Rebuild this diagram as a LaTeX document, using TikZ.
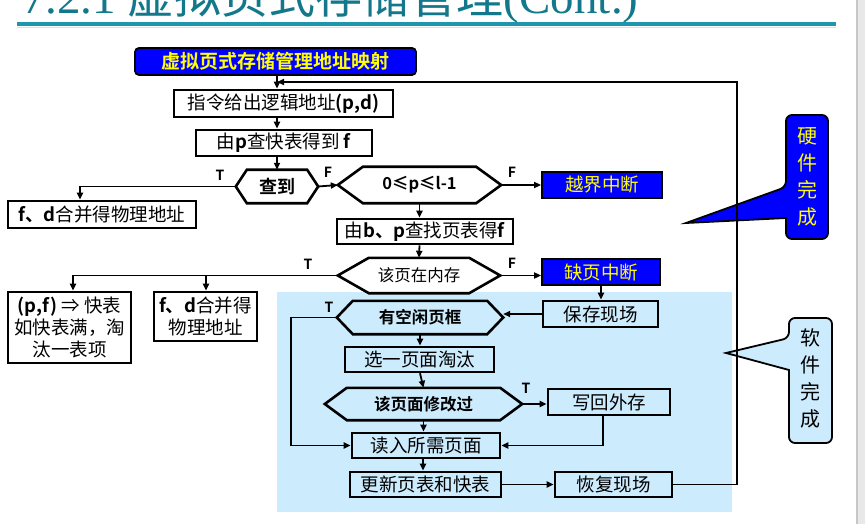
\documentclass[tikz,border=0pt]{standalone}
\usepackage{fontspec}
\setmainfont{Noto Sans CJK SC}[BoldFont={Noto Sans CJK SC Bold}]
\newfontfamily\headserif{Liberation Serif}
\usepackage{xcolor}
\usetikzlibrary{arrows.meta}
\definecolor{headteal}{HTML}{13788C}
\definecolor{ruleteal}{HTML}{1E96AE}
\definecolor{softblue}{HTML}{CCEBFD}
\definecolor{alarmblue}{HTML}{0000FF}
\definecolor{alarmyellow}{HTML}{FFFF00}

\begin{document}
\begin{tikzpicture}[x=1pt, y=-1pt, >={Triangle[length=7pt,width=6pt]},
    font=\fontsize{18.5}{21.7}\selectfont,
    box/.style={draw, line width=2.6pt, inner sep=0pt, minimum height=26pt,
                align=center},
    alarm/.style={box, line width=1.8pt, fill=alarmblue, text=alarmyellow},
    test/.style={inner sep=0pt, font=\fontsize{16.5}{20}\selectfont\bfseries,
                 append after command={\pgfextra{\draw[line width=2.6pt]
                   (\tikzlastnode.west) -- ([xshift=#1]\tikzlastnode.north west)
                   -- ([xshift=-#1]\tikzlastnode.north east) -- (\tikzlastnode.east)
                   -- ([xshift=-#1]\tikzlastnode.south east)
                   -- ([xshift=#1]\tikzlastnode.south west) -- cycle;}}},
    link/.style={->, line width=1.8pt},
    tag/.style={font=\fontsize{14}{16}\selectfont\bfseries, inner sep=0pt}]
  \useasboundingbox (0,0) rectangle (865,524);
  \fill[black!9] (856,0) rectangle (865,524);
  \draw[black!22, line width=1.5pt] (857,0) -- (857,524);
  \node[anchor=base west, inner sep=0pt, text=headteal,
        font=\fontsize{47}{50}\selectfont] (heading) at (22,14)
        {{\headserif 7.2.1 }虚拟页式存储管理{\headserif (Cont.)}};
  \draw[black!12, line width=1.5pt] (17,27.5) -- (836,27.5);
  \draw[ruleteal, line width=3.5pt] (17,24) -- (836,24);
  \fill[softblue] (277,292) rectangle (732,512);

  \draw[fill=alarmblue, line width=1.8pt, rounded corners=6pt]
    (786,218) -- (786,239) -- (828,239) -- (828,115) -- (786,115) -- (786,187)
    [sharp corners] -- (686,223) -- cycle;
  \node[text=alarmyellow, align=center, font=\fontsize{20}{27}\selectfont]
    (hwtag) at (807,177) {硬\\件\\完\\成};
  \draw[fill=softblue, line width=1.8pt, rounded corners=6pt]
    (789,370) -- (789,443) -- (832,443) -- (832,318) -- (789,318) -- (789,338)
    [sharp corners] -- (726,353) -- cycle;
  \node[align=center, font=\fontsize{20}{27}\selectfont]
    (swtag) at (810,378) {软\\件\\完\\成};

  \node[alarm, rounded corners=4pt, minimum width=281pt, minimum height=27pt,
        font=\fontsize{19}{22}\selectfont\bfseries] (title) at (275.5,61.5)
        {虚拟页式存储管理地址映射};
  \node[box, minimum width=219pt, minimum height=27pt] (addr) at (283.5,103.5)
        {指令给出逻辑地址\textbf{(p,d)}};
  \node[box, minimum width=176pt] (tlb) at (284,143)
        {由\textbf{p}查快表得到 \textbf{f}};
  \node[test=11pt, minimum width=82pt, minimum height=33pt,
        font=\fontsize{18}{20}\selectfont\bfseries] (hit) at (277,186.5) {查到};
  \node[test=25pt, minimum width=163pt, minimum height=36pt]
        (bound) at (419.5,185) {0≤p≤l-1};
  \node[alarm, minimum width=120pt] (err1) at (602,185) {越界中断};
  \node[box, minimum width=188pt, minimum height=27pt] (mergeA) at (102,214.5)
        {\textbf{f、d}合并得物理地址};
  \node[box, minimum width=176pt, minimum height=25pt] (pt) at (425,231.5)
        {由\textbf{b、p}查找页表得\textbf{f}};
  \node[test=31pt, minimum width=162pt, minimum height=35pt,
        font=\fontsize{16.5}{20}\selectfont] (inmem) at (419,275.5) {该页在内存};
  \node[alarm, minimum width=118pt] (err2) at (601,272) {缺页中断};
  \node[box, minimum width=123pt, minimum height=71pt] (fill) at (69.5,327.5)
        {\textbf{(p,f)} ⇒ 快表\\如快表满，淘\\汰一表项};
  \node[box, minimum width=103pt, minimum height=49pt] (mergeB) at (205.5,316.5)
        {\textbf{f、d}合并得\\物理地址};
  \node[box, minimum width=115pt] (save) at (600.5,314) {保存现场};
  \node[test=16pt, minimum width=166pt, minimum height=33pt]
        (free) at (420,317.5) {有空闲页框};
  \node[box, minimum width=149pt, minimum height=25pt] (pick) at (419.5,359.5)
        {选一页面淘汰};
  \node[test=22pt, minimum width=197pt, minimum height=32pt]
        (dirty) at (423.5,404) {该页面修改过};
  \node[box, minimum width=122pt] (wback) at (609,402) {写回外存};
  \node[box, minimum width=148pt, minimum height=25pt] (load) at (426,445.5)
        {读入所需页面};
  \node[box, minimum width=151pt, minimum height=25pt] (renew) at (425.5,484.5)
        {更新页表和快表};
  \node[box, minimum width=117pt, minimum height=25pt] (restore) at (613.5,484.5)
        {恢复现场};

  \coordinate (join) at (277,82);
  \coordinate (rail) at (737,82);
  \coordinate (tbend) at (80,186.5);
  \coordinate (fbend) at (73,275.5);
  \coordinate (mbend) at (206,275.5);
  \coordinate (lbend) at (291,317.5);

  \node[tag] (t1) at (220,175) {T};
  \node[tag] (f1) at (328,172) {F};
  \node[tag] (f2) at (512,172) {F};
  \node[tag] (t2) at (308,264) {T};
  \node[tag] (f3) at (512,263) {F};
  \node[tag] (t3) at (329,307) {T};
  \node[tag] (t4) at (526,388) {T};

  \draw[link] (title.south -| join) -- (addr.north -| join);
  \draw[link] (addr.south -| join) -- (tlb.north -| join);
  \draw[link] (tlb.south -| join) -- (hit.north -| join);
  \draw[link] (hit.west) -- (tbend) -- (tbend |- mergeA.north);
  \draw[link] (hit.east) -- (bound.west);
  \draw[link] (bound.east) -- (err1.west);
  \draw[link] (bound.south) -- (bound.south |- pt.north);
  \draw[link] (bound.south |- pt.south) -- (inmem.north);
  \draw[link] (inmem.east) -- (inmem.east -| err2.west);
  \draw[link] (inmem.west) -- (fbend) -- (fbend |- fill.north);
  \draw[link] (mbend) -- (mbend |- mergeB.north);
  \draw[link] (err2.south) -- (err2.south |- save.north);
  \draw[link] (save.west) -- (save.west -| free.east);
  \draw[link] (free.west) -- (lbend) |- (load.west);
  \draw[link] (free.south) -- (free.south |- pick.north);
  \draw[link] (free.south |- pick.south) -- (dirty.north);
  \draw[link] (dirty.east) -- (dirty.east -| wback.west);
  \draw[link] (dirty.south) -- (dirty.south |- load.north);
  \draw[link] ([xshift=-6pt]wback.south) |- (load.east);
  \draw[link] ([xshift=-3pt]load.south) -- ([xshift=-3pt]load.south |- renew.north);
  \draw[link] (renew.east) -- (restore.west);
  \draw[link] (restore.east) -| (rail) -- (join);
\end{tikzpicture}
\end{document}
